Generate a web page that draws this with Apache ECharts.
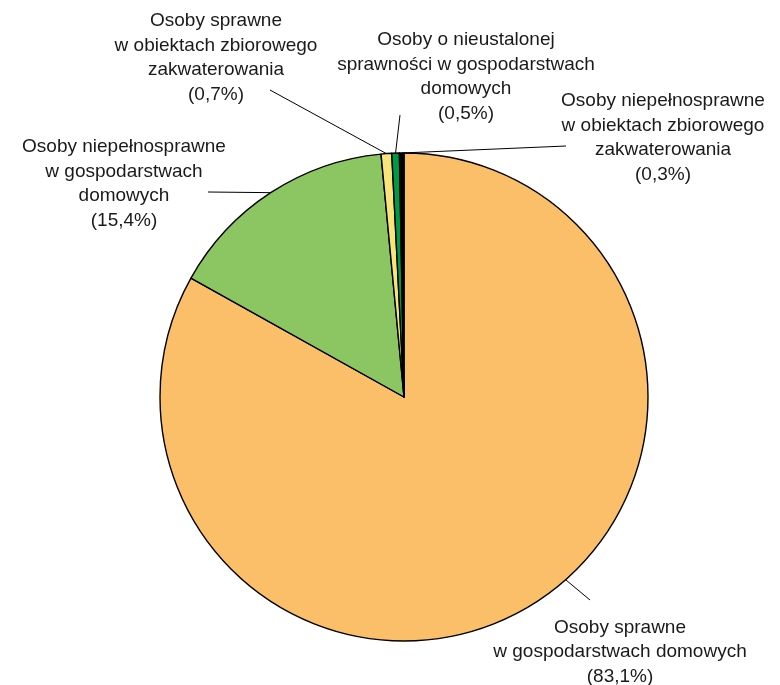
<!DOCTYPE html>
<html>
<head>
<meta charset="utf-8">
<script src="https://cdn.jsdelivr.net/npm/echarts@6/dist/echarts.min.js"></script>
<style>
  html, body { margin: 0; padding: 0; background: #fff; }
  #chart { width: 780px; height: 685px; }
</style>
</head>
<body>
<div id="chart"></div>
<script>
  // categories (line breaks as in the original labels)
  var categories = [
    "Osoby sprawne\nw gospodarstwach domowych",
    "Osoby niepełnosprawne\nw gospodarstwach\ndomowych",
    "Osoby sprawne\nw obiektach zbiorowego\nzakwaterowania",
    "Osoby o nieustalonej\nsprawności w gospodarstwach\ndomowych",
    "Osoby niepełnosprawne\nw obiektach zbiorowego\nzakwaterowania"
  ];
  // shares in percent
  var shares = [83.1, 15.4, 0.7, 0.5, 0.3];
  var colors = ["#FBBE69", "#8BC662", "#F9E47A", "#009A46", "#000000"];

  var center = [404, 397];
  var radius = 244;

  // label block centres and where the leader line meets the label
  var labelBoxes = [
    { x: 620, y: 652, end: [590, 600], startAngle: 138.5 },
    { x: 124, y: 184, end: [208, 192] },
    { x: 216, y: 58, end: [270, 90] },
    { x: 466, y: 77, end: [400, 115] },
    { x: 663, y: 138, end: [566, 146] }
  ];

  var chart = echarts.init(document.getElementById("chart"));

  chart.setOption({
    animation: false,
    textStyle: { fontFamily: "Liberation Sans" },
    series: [
      {
        type: "pie",
        center: center,
        radius: radius,
        startAngle: 90,
        clockwise: true,
        avoidLabelOverlap: false,
        minShowLabelAngle: 0,
        data: categories.map(function (name, i) {
          return { name: name, value: shares[i], itemStyle: { color: colors[i] } };
        }),
        itemStyle: {
          borderColor: "#000",
          borderWidth: 1.4
        },
        emphasis: { disabled: true },
        label: {
          show: true,
          position: "outside",
          color: "#1a1a1a",
          fontSize: 19,
          lineHeight: 24.5,
          align: "center",
          formatter: function (p) {
            return p.name + "\n(" + p.value.toFixed(1).replace(".", ",") + "%)";
          }
        },
        labelLine: {
          show: true,
          length: 10,
          length2: 10,
          lineStyle: { color: "#000", width: 1 }
        },
        labelLayout: function (params) {
          var box = labelBoxes[params.dataIndex];
          var start = params.labelLinePoints ? params.labelLinePoints[0] : center;
          if (box.startAngle != null) {
            var a = box.startAngle * Math.PI / 180;
            start = [center[0] + radius * Math.sin(a), center[1] - radius * Math.cos(a)];
          }
          return {
            x: box.x,
            y: box.y,
            align: "center",
            verticalAlign: "middle",
            labelLinePoints: [start, box.end]
          };
        }
      }
    ]
  });
</script>
</body>
</html>
